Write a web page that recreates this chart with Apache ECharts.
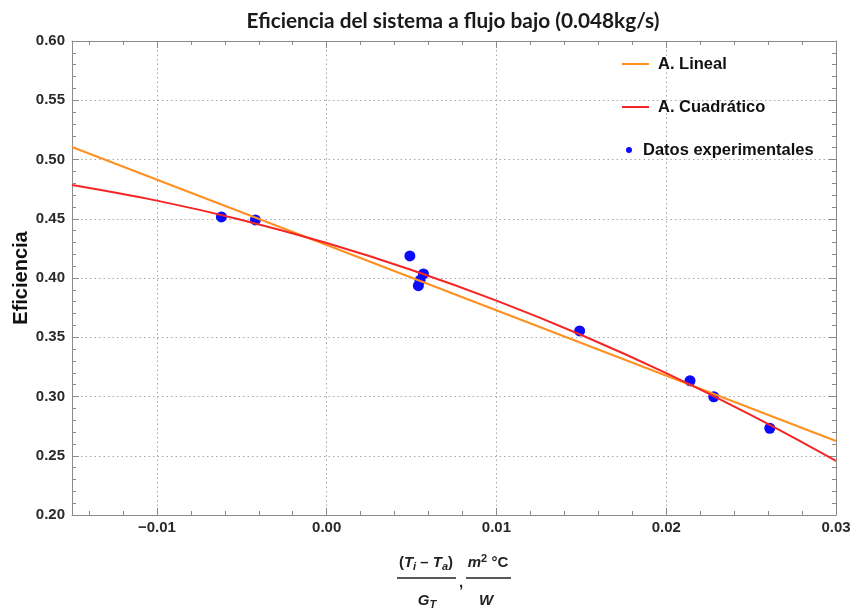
<!DOCTYPE html>
<html>
<head>
<meta charset="utf-8">
<style>
  html, body { margin: 0; padding: 0; background: #fff; }
  #main { width: 855px; height: 616px; }
</style>
<script src="https://cdn.jsdelivr.net/npm/echarts@6/dist/echarts.min.js"></script>
</head>
<body>
<div id="main"></div>
<script>
// datos
var puntosX = [-0.0062, -0.0042, 0.0049, 0.0057, 0.0055, 0.0054, 0.0149, 0.0214, 0.0228, 0.0261];
var puntosY = [0.4515, 0.449, 0.4186, 0.4034, 0.398, 0.3935, 0.3553, 0.3133, 0.2998, 0.2732];

var linealX = [-0.015, 0.03];
var linealY = [0.5105, 0.2624];

var cuadX = [-0.015, -0.01, -0.005, 0, 0.005, 0.01, 0.015, 0.02, 0.025, 0.03];
var cuadY = [0.4785, 0.4653, 0.449, 0.4295, 0.4068, 0.3809, 0.3519, 0.3197, 0.2843, 0.2457];

var ticksX = [-0.01, 0, 0.01, 0.02, 0.03];
var ticksXmenor = [-0.014, -0.012, -0.008, -0.006, -0.004, -0.002, 0.002, 0.004, 0.006, 0.008,
  0.012, 0.014, 0.016, 0.018, 0.022, 0.024, 0.026, 0.028];

function pares(xs, ys) {
  return xs.map(function (x, i) { return [x, ys[i]]; });
}

var gris = '#8a8a8a';
var fuente = 'Liberation Sans';
var rejillaEstilo = { color: '#a8a8a8', type: [1.5, 3], width: 1 };

function ejeX(pos, valores, largo, etiquetas, rejilla, linea) {
  return {
    type: 'value',
    position: pos,
    min: -0.015,
    max: 0.03,
    axisLine: { show: linea, onZero: false, lineStyle: { color: gris, width: 1 } },
    axisTick: { show: true, inside: true, length: largo, customValues: valores, lineStyle: { color: gris } },
    axisLabel: {
      show: etiquetas,
      customValues: valores,
      margin: 5,
      color: '#2a2a2a',
      fontFamily: fuente,
      fontWeight: 'bold',
      fontSize: 15,
      formatter: function (v) {
        return v < 0 ? '\u2212' + Math.abs(v).toFixed(2) : v.toFixed(2);
      }
    },
    splitLine: { show: rejilla, lineStyle: rejillaEstilo },
    minorTick: { show: false }
  };
}

function ejeY(pos, etiquetas) {
  return {
    type: 'value',
    position: pos,
    min: 0.2,
    max: 0.6,
    interval: 0.05,
    name: etiquetas ? 'Eficiencia' : '',
    nameLocation: 'middle',
    nameGap: 41,
    nameMoveOverlap: false,
    nameTextStyle: { fontFamily: fuente, fontWeight: 'bold', fontSize: 20, color: '#111' },
    axisLine: { show: true, onZero: false, lineStyle: { color: gris, width: 1 } },
    axisTick: { show: true, inside: true, length: 7, lineStyle: { color: gris } },
    minorTick: { show: true, splitNumber: 5, length: 4, lineStyle: { color: gris } },
    axisLabel: {
      show: etiquetas,
      margin: 7,
      color: '#2a2a2a',
      fontFamily: fuente,
      fontWeight: 'bold',
      fontSize: 15,
      formatter: function (v) { return v.toFixed(2); }
    },
    splitLine: { show: etiquetas, lineStyle: rejillaEstilo }
  };
}

var rico = {
  n: { fontFamily: fuente, fontWeight: 'bold', fontSize: 15, lineHeight: 19, fill: '#222' },
  v: { fontFamily: fuente, fontWeight: 'bold', fontStyle: 'italic', fontSize: 15, lineHeight: 19, fill: '#222' },
  s: { fontFamily: fuente, fontWeight: 'bold', fontStyle: 'italic', fontSize: 11, lineHeight: 9, verticalAlign: 'bottom', fill: '#222' },
  u: { fontFamily: fuente, fontWeight: 'bold', fontSize: 11, lineHeight: 9, verticalAlign: 'top', fill: '#222' }
};

var chart = echarts.init(document.getElementById('main'));
chart.setOption({
  animation: false,
  backgroundColor: '#fff',
  title: {
    text: 'Eficiencia del sistema a flujo bajo (0.048kg/s)',
    left: 448,
    textAlign: 'center',
    top: 6,
    textStyle: { fontFamily: 'Lato', fontWeight: 'bold', fontSize: 20.8, color: '#1a1a1a' }
  },
  grid: { left: 72, right: 19, top: 41, bottom: 101, containLabel: false, outerBoundsMode: 'none' },
  legend: [
    {
      orient: 'vertical',
      left: 622,
      top: 55,
      padding: 0,
      itemWidth: 27,
      itemHeight: 14,
      itemGap: 25,
      textStyle: { fontFamily: fuente, fontWeight: 'bold', fontSize: 16.5, lineHeight: 18, color: '#111', padding: [0, 0, 0, 4] },
      data: [
        { name: 'A. Lineal', icon: 'path://M0,0L27,0L27,2L0,2Z' },
        { name: 'A. Cuadrático', icon: 'path://M0,0L27,0L27,2L0,2Z' }
      ]
    },
    {
      orient: 'vertical',
      left: 626,
      top: 141,
      padding: 0,
      itemWidth: 6,
      itemHeight: 6,
      textStyle: { fontFamily: fuente, fontWeight: 'bold', fontSize: 16.5, lineHeight: 18, color: '#111', padding: [0, 0, 0, 6] },
      data: [{ name: 'Datos experimentales', icon: 'circle' }]
    }
  ],
  xAxis: [
    ejeX('bottom', ticksX, 7, true, true, true),
    ejeX('bottom', ticksXmenor, 4, false, false, false),
    ejeX('top', ticksX, 7, false, false, true),
    ejeX('top', ticksXmenor, 4, false, false, false)
  ],
  yAxis: [ejeY('left', true), ejeY('right', false)],
  graphic: [
    {
      type: 'text',
      style: { x: 426, y: 563, align: 'center', verticalAlign: 'middle', text: '{n|(}{v|T}{s|i}{n| \u2013 }{v|T}{s|a}{n|)}', rich: rico }
    },
    { type: 'line', shape: { x1: 397, y1: 578, x2: 456, y2: 578 }, style: { stroke: '#222', lineWidth: 1.5 } },
    { type: 'text', style: { x: 461, y: 583, align: 'center', verticalAlign: 'middle', text: ',', fontFamily: fuente, fontWeight: 'bold', fontSize: 15, fill: '#222' } },
    { type: 'line', shape: { x1: 466, y1: 578, x2: 511, y2: 578 }, style: { stroke: '#222', lineWidth: 1.5 } },
    {
      type: 'text',
      style: { x: 488, y: 563, align: 'center', verticalAlign: 'middle', text: '{v|m}{u|2}{n| °C}', rich: rico }
    },
    {
      type: 'text',
      style: { x: 427, y: 601, align: 'center', verticalAlign: 'middle', text: '{v|G}{s|T}', rich: rico }
    },
    { type: 'text', style: { x: 486, y: 601, align: 'center', verticalAlign: 'middle', text: 'W', fontFamily: fuente, fontWeight: 'bold', fontStyle: 'italic', fontSize: 15, fill: '#222' } }
  ],
  series: [
    {
      name: 'A. Lineal',
      type: 'line',
      symbol: 'none',
      data: pares(linealX, linealY),
      lineStyle: { color: '#ff9020', width: 2 },
      itemStyle: { color: '#ff9020' }
    },
    {
      name: 'A. Cuadrático',
      type: 'line',
      symbol: 'none',
      smooth: 0.4,
      data: pares(cuadX, cuadY),
      lineStyle: { color: '#f52525', width: 2 },
      itemStyle: { color: '#f52525' }
    },
    {
      name: 'Datos experimentales',
      type: 'scatter',
      symbolSize: 11,
      data: pares(puntosX, puntosY),
      itemStyle: { color: '#0a0aff', opacity: 1 }
    }
  ]
});
</script>
</body>
</html>
